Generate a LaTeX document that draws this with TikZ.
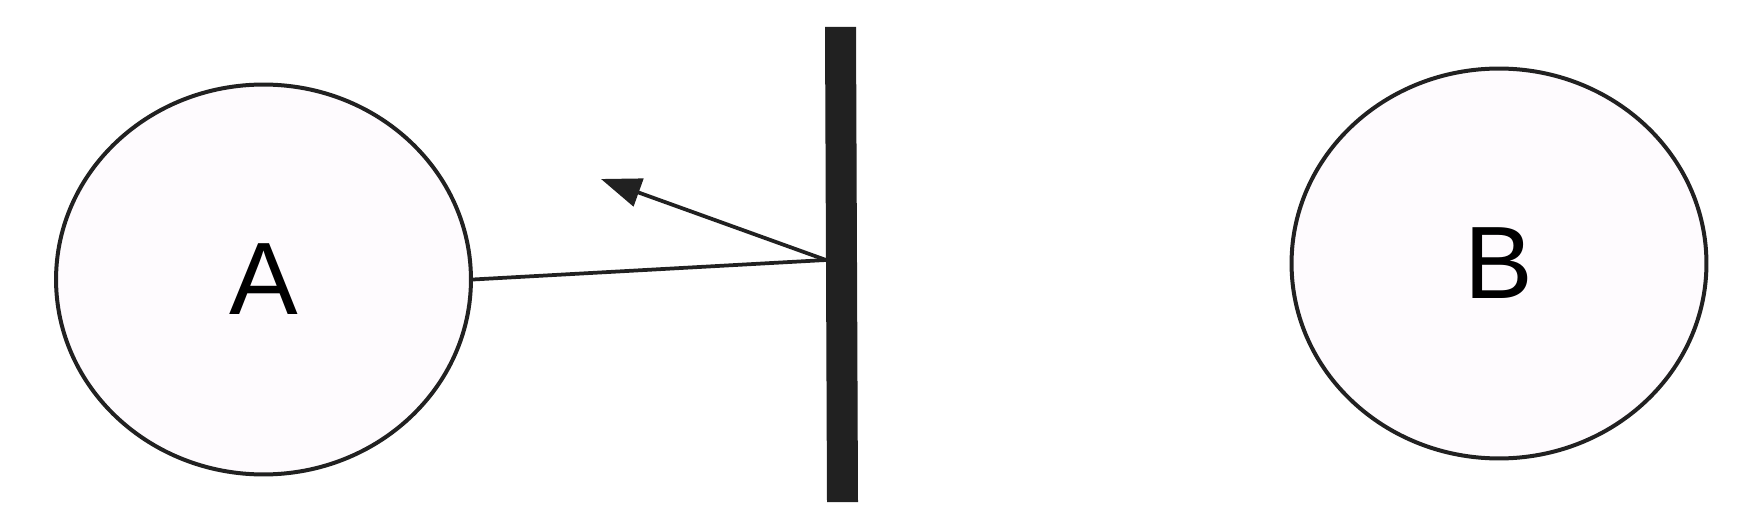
\documentclass[tikz,border=0pt]{standalone}
\usepackage{fontspec}
\setmainfont{Liberation Sans}
\usetikzlibrary{shapes.geometric, arrows.meta}

\definecolor{inkgrey}{HTML}{212121}
\definecolor{lavfill}{HTML}{FEFBFE}

\begin{document}
\begin{tikzpicture}[x=0.02cm, y=-0.02cm,
        party/.style={ellipse, draw=inkgrey, fill=lavfill, line width=0.08cm,
            minimum width=8.3cm, minimum height=7.8cm, inner sep=0pt,
            font=\fontsize{58.6}{70}\selectfont},
        ray/.style={draw=inkgrey, line width=0.075cm}]
        \useasboundingbox (0,0) rectangle (1762,520);

        \node[party] (A) at (263.5,279.5) {A};
        \node[party] (B) at (1499,263.5) {B};

        % the wall
        \fill[inkgrey] (825,27) -- (856,27) -- (858,502) -- (827,502) -- cycle;

        \coordinate (hit) at (826,260);
        \coordinate (back) at (601,179);

        \draw[ray] (A.east) -- (hit);
        \draw[ray, -{Triangle[length=0.8cm, width=0.58cm]}] (hit) -- (back);
    \end{tikzpicture}
\end{document}
